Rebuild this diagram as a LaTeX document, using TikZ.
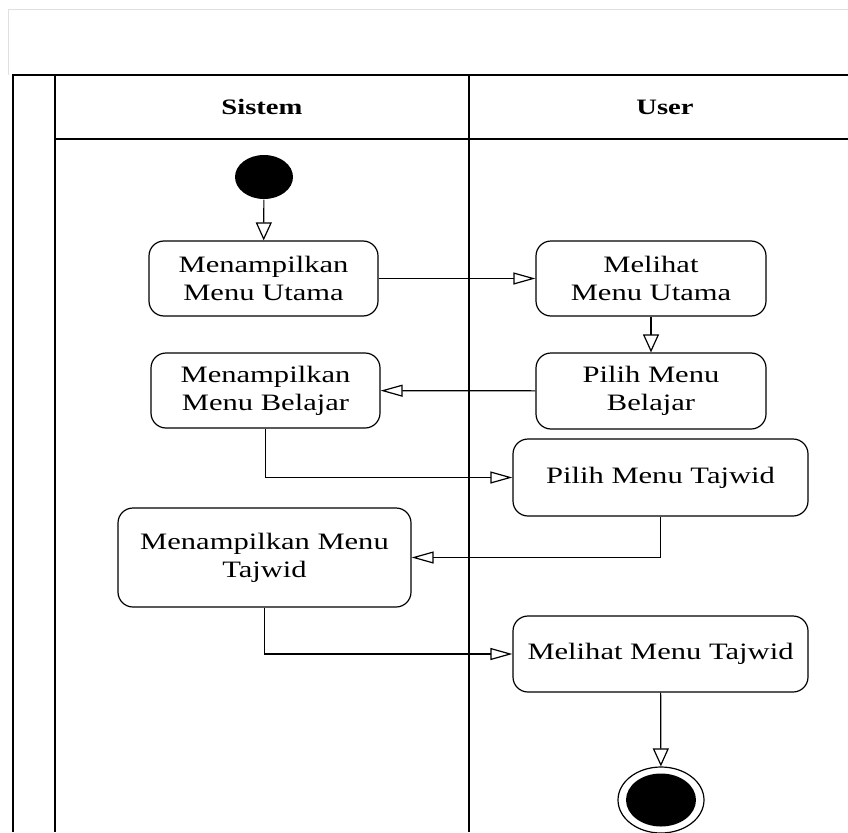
\documentclass[tikz,border=0pt]{standalone}
\usepackage{fontspec}
\setmainfont{Liberation Serif}[FakeStretch=1.3]
\usetikzlibrary{arrows.meta,shapes.geometric}

\begin{document}
\begin{tikzpicture}[
    x=1pt, y=-1pt,
    line width=1.2pt,
    every node/.style={font=\fontsize{23.5}{28}\selectfont},
    act/.style={draw, rounded corners=15pt, align=center, inner sep=0pt},
    lanehead/.style={font=\fontsize{22}{27}\selectfont\bfseries},
    vflow/.style={-{Triangle[open, length=18pt, width=16pt]}},
    hflow/.style={-{Triangle[open, length=22pt, width=12pt]}}
]
    \useasboundingbox (0,0) rectangle (848,832);

    % swimlanes
    \draw[black!12, line width=1pt] (8,75) -- (8,10) -- (848,10);
    \draw (13,832) -- (13,75) -- (848,75);
    \draw (55,75) -- (55,832);
    \draw (55,139) -- (848,139);
    \draw (469,75) -- (469,832);
    \node[lanehead] (sistem) at (262,107) {Sistem};
    \node[lanehead] (user) at (665,107) {User};

    \node[ellipse, fill=black, minimum width=58pt, minimum height=44pt, inner sep=0pt] (start) at (264,177) {};
    \node[act, minimum width=229pt, minimum height=75pt] (tampil_utama) at (263.5,278.5) {Menampilkan\\Menu Utama};
    \node[act, minimum width=230pt, minimum height=75pt] (lihat_utama) at (651,278.5) {Melihat\\Menu Utama};
    \node[act, minimum width=230pt, minimum height=76pt] (pilih_belajar) at (651,391) {Pilih Menu\\Belajar};
    \node[act, minimum width=229pt, minimum height=75pt] (tampil_belajar) at (265.5,390.5) {Menampilkan\\Menu Belajar};
    \node[act, minimum width=295pt, minimum height=77pt] (pilih_tajwid) at (660.5,477.5) {Pilih Menu Tajwid};
    \node[act, minimum width=293pt, minimum height=99pt] (tampil_tajwid) at (264.5,557.5) {Menampilkan Menu\\Tajwid};
    \node[act, minimum width=295pt, minimum height=76pt] (lihat_tajwid) at (660.5,654) {Melihat Menu Tajwid};
    \node[ellipse, draw, minimum width=86pt, minimum height=66pt, inner sep=0pt] (end) at (661,800) {};
    \node[ellipse, fill=black, minimum width=70pt, minimum height=53pt, inner sep=0pt] (end_dot) at (end) {};

    \draw[vflow] (start) -- (tampil_utama);
    \draw[hflow] (tampil_utama) -- (lihat_utama);
    \draw[vflow] (lihat_utama) -- (pilih_belajar);
    \draw[hflow] (pilih_belajar) -- (tampil_belajar);
    \draw[hflow] (tampil_belajar.south) |- (pilih_tajwid.west);
    \draw[hflow] (pilih_tajwid.south) |- (tampil_tajwid.east);
    \draw[hflow] (tampil_tajwid.south) |- (lihat_tajwid.west);
    \draw[vflow] (lihat_tajwid) -- (end);
\end{tikzpicture}
\end{document}
